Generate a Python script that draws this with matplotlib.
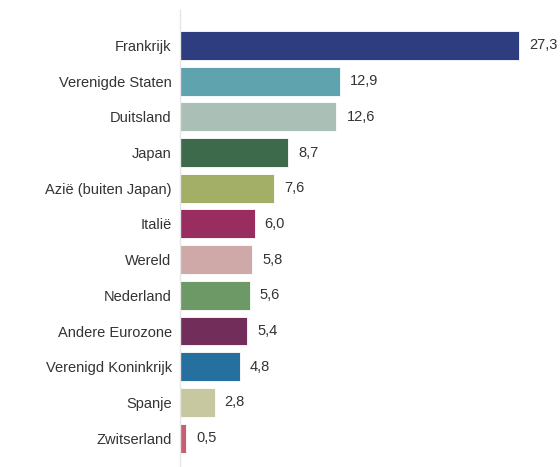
import matplotlib
matplotlib.use("Agg")
import matplotlib.pyplot as plt
import numpy as np

# Data
categories = ["Frankrijk", "Verenigde Staten", "Duitsland", "Japan",
              "Azië (buiten Japan)", "Italië", "Wereld", "Nederland",
              "Andere Eurozone", "Verenigd Koninkrijk", "Spanje", "Zwitserland"]
values = [27.3, 12.9, 12.6, 8.7, 7.6, 6.0, 5.8, 5.6, 5.4, 4.8, 2.8, 0.5]
colors = ["#2e3d80", "#5fa3ae", "#aabfb5", "#3d6a4a", "#a3af66", "#9a2d60",
          "#cfa8a8", "#6c9966", "#722d5a", "#2670a0", "#c8c8a0", "#c85e72"]

plt.rcParams['font.family'] = ['Liberation Sans', 'DejaVu Sans']

fig = plt.figure(figsize=(5.6, 4.67), dpi=100)
ax = fig.add_axes([180 / 560, 0, 1 - 180 / 560 - 11 / 560, 457 / 467])

y = np.arange(len(categories))
ax.barh(y, values, height=0.81, color=colors, edgecolor="white", linewidth=0.6)

#Value labels next to each bar
for yi, v in zip(y, values):
    ax.text(v + 0.8, yi, f"{v:.1f}".replace(".", ","), va="center", ha="left",
            fontsize=10.5, color="#333333")

ax.set_yticks(y)
ax.set_yticklabels(categories, fontsize=10.5, color="#333333")
ax.set_ylim(11.81, -0.994)
ax.set_xlim(0, 369 / 12.42)
ax.set_xticks([])
ax.tick_params(axis="y", length=0, pad=6)

for side in ["top", "right", "bottom"]:
    ax.spines[side].set_visible(False)
ax.spines["left"].set_color("#e6e6e6")
ax.spines["left"].set_linewidth(1)

fig.savefig("out.png", dpi=100)
